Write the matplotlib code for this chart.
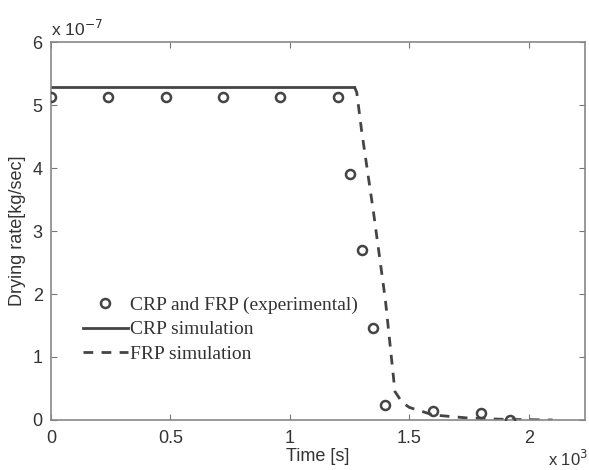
import matplotlib
matplotlib.use("Agg")
import matplotlib.pyplot as plt

# Data (time in units of 1e3 s, drying rate in units of 1e-7 kg/s)
exp_time = [0.0, 0.24, 0.48, 0.72, 0.96, 1.20, 1.25, 1.30, 1.35, 1.40, 1.60, 1.80, 1.92]
exp_rate = [5.13, 5.13, 5.13, 5.13, 5.13, 5.13, 3.90, 2.70, 1.46, 0.24, 0.15, 0.11, 0.0]

crp_time = [0.0, 1.27]
crp_rate = [5.29, 5.29]

frp_time = [1.27, 1.28, 1.30, 1.35, 1.40, 1.44, 1.47, 1.50, 1.60, 1.75, 1.90, 2.10]
frp_rate = [5.29, 5.20, 4.60, 3.30, 1.90, 0.45, 0.28, 0.20, 0.08, 0.03, 0.01, 0.0]

xticks = [0, 0.5, 1, 1.5, 2]
xtick_labels = ["0", "0.5", "1", "1.5", "2"]
yticks = [0, 1, 2, 3, 4, 5, 6]
ytick_labels = ["0", "1", "2", "3", "4", "5", "6"]

line_col = "#444444"
sans = ["Liberation Sans", "DejaVu Sans"]
serif = ["Liberation Serif", "DejaVu Serif"]

fig = plt.figure(figsize=(5.89, 4.70), dpi=100)
ax = fig.add_axes([0.0866, 0.1064, 0.9064, 0.8042])

ax.plot(exp_time, exp_rate, linestyle="none", marker="o", markersize=6.5,
        markerfacecolor="none", markeredgecolor=line_col, markeredgewidth=1.8,
        label="CRP and FRP (experimental)", zorder=3)
ax.plot(crp_time, crp_rate, color=line_col, linewidth=2.0, label="CRP simulation")
ax.plot(frp_time, frp_rate, color=line_col, linewidth=2.0, linestyle=(0, (3.5, 3.0)),
        label="FRP simulation")

ax.set_xlim(0, 2.235)
ax.set_ylim(0, 6)
ax.set_xticks(xticks)
ax.set_xticklabels(xtick_labels, family=sans, fontsize=13)
ax.set_yticks(yticks)
ax.set_yticklabels(ytick_labels, family=sans, fontsize=13)
ax.tick_params(direction="in", top=True, right=True, length=4, color="#777777",
               labelcolor="#333333")
ax.tick_params(axis="x", pad=7)
ax.tick_params(axis="y", pad=6)
for s in ax.spines.values():
    s.set_color("#888888")
    s.set_linewidth(1.2)

ax.set_xlabel("Time [s]", family=sans, fontsize=13, color="#333333", labelpad=1)
ax.set_ylabel("Drying rate[kg/sec]", family=sans, fontsize=13, color="#333333", labelpad=5)

ax.text(0.0, 1.008, "x 10$^{-7}$", transform=ax.transAxes, ha="left", va="bottom",
        family=sans, fontsize=12.5, color="#333333")
fig.text(0.999, 0.003, "x 10$^{3}$", ha="right", va="bottom",
         family=sans, fontsize=12, color="#333333")

leg = ax.legend(loc="upper left", bbox_to_anchor=(0.045, 0.348), frameon=False,
                prop={"family": serif, "size": 14}, handlelength=2.3,
                handletextpad=0.15, labelspacing=0.35, borderaxespad=0)
for t in leg.get_texts():
    t.set_color("#333333")

fig.savefig("out.png", dpi=100)
